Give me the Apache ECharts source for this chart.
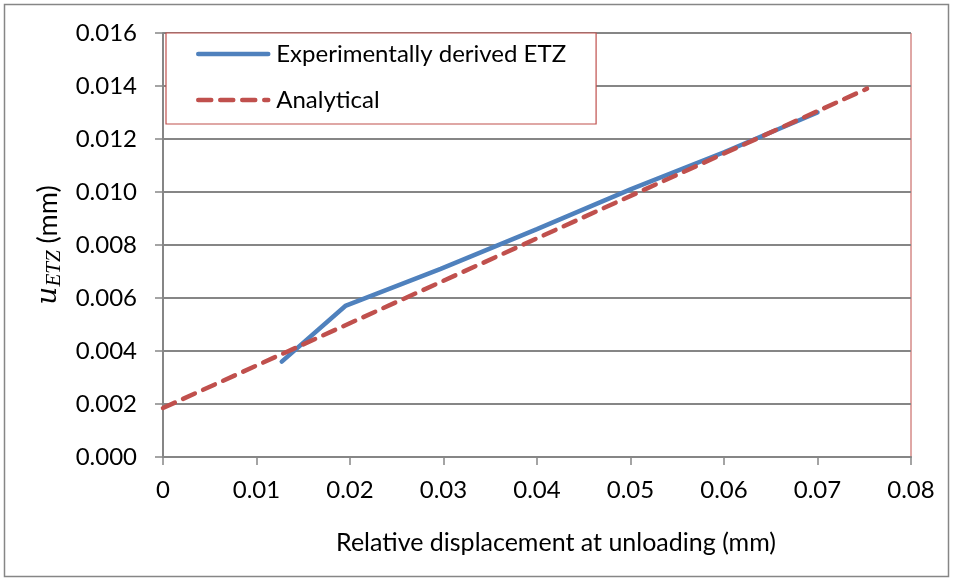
<!DOCTYPE html>
<html>
<head>
<meta charset="utf-8">
<script src="https://cdn.jsdelivr.net/npm/echarts@6/dist/echarts.min.js"></script>
<style>
  html, body { margin: 0; padding: 0; background: #fff; }
  #chart { width: 953px; height: 581px; }
</style>
</head>
<body>
<div id="chart"></div>
<script>
// values
const expX = [0.0127, 0.0195, 0.0297, 0.04, 0.05, 0.06, 0.07];
const expY = [0.0036, 0.0057, 0.0071, 0.0086, 0.0101, 0.0115, 0.0130];
const anaX = [0, 0.0753];
const anaY = [0.00185, 0.0139];
const xTicks = [0, 0.01, 0.02, 0.03, 0.04, 0.05, 0.06, 0.07, 0.08];
const yTicks = [0, 0.002, 0.004, 0.006, 0.008, 0.010, 0.012, 0.014, 0.016];

const FONT = 'Lato, "Open Sans", sans-serif';
const gray = '#868686';

function zip(xs, ys) {
  return xs.map((x, i) => [x, ys[i]]);
}

const chart = echarts.init(document.getElementById('chart'), null, { renderer: 'canvas' });

chart.setOption({
  animation: false,
  backgroundColor: '#fff',
  textStyle: { fontFamily: FONT },
  graphic: [{
    type: 'rect',
    shape: { x: 4.5, y: 4.5, width: 944, height: 572 },
    style: { fill: 'none', stroke: gray, lineWidth: 1.5 },
    silent: true
  }],
  grid: {
    left: 163, right: 42, top: 33, bottom: 124,
    show: true, borderColor: '#c0504d', borderWidth: 1, backgroundColor: 'transparent'
  },
  legend: {
    left: 166, top: 33,
    orient: 'vertical',
    backgroundColor: '#fff',
    borderColor: '#c0504d', borderWidth: 1.2, borderRadius: 0,
    padding: [9, 30, 12, 30],
    itemGap: 22,
    itemWidth: 70, itemHeight: 24,
    itemStyle: { opacity: 0 },
    lineStyle: { width: 4.5, cap: 'round' },
    textStyle: { fontFamily: FONT, fontSize: 24, color: '#000', padding: [0, 0, 0, 3] },
    data: ['Experimentally derived ETZ', 'Analytical']
  },
  xAxis: {
    type: 'value',
    min: 0, max: 0.08, interval: 0.01,
    name: 'Relative displacement at unloading (mm)',
    nameLocation: 'middle', nameGap: 73,
    nameTextStyle: { fontFamily: FONT, fontSize: 25, color: '#000', verticalAlign: 'top', padding: [0, 0, 0, 38] },
    axisLine: { show: true, lineStyle: { color: gray, width: 2 } },
    axisTick: { show: true, length: 8, lineStyle: { color: gray, width: 1.5 } },
    axisLabel: {
      fontFamily: FONT, fontSize: 24, color: '#000', margin: 21,
      formatter: v => {
        const t = xTicks.find(k => Math.abs(k - v) < 1e-9);
        return t === 0 ? '0' : (t !== undefined ? t.toFixed(2) : '');
      }
    },
    splitLine: { show: false }
  },
  yAxis: {
    type: 'value',
    min: 0, max: 0.016, interval: 0.002,
    name: '{u|u}{sub|ETZ}{mm| (mm)}',
    nameLocation: 'middle', nameGap: 86, nameRotate: 90,
    nameTextStyle: {
      rich: {
        u: { fontFamily: '"DejaVu Serif", "Liberation Serif", serif', fontStyle: 'italic', fontSize: 28, color: '#000' },
        sub: { fontFamily: '"Liberation Serif", serif', fontStyle: 'italic', fontSize: 21, color: '#000', padding: [12, 0, 0, 0] },
        mm: { fontFamily: FONT, fontSize: 27, color: '#000' }
      }
    },
    axisLine: { show: true, lineStyle: { color: gray, width: 2 } },
    axisTick: { show: true, length: 8, lineStyle: { color: gray, width: 1.5 } },
    axisLabel: {
      fontFamily: FONT, fontSize: 24, color: '#000', margin: 26,
      formatter: v => v.toFixed(3)
    },
    splitLine: { show: true, lineStyle: { color: gray, width: 2 } }
  },
  series: [
    {
      name: 'Experimentally derived ETZ',
      type: 'line',
      data: zip(expX, expY),
      symbol: 'none',
      lineStyle: { color: '#4f81bd', width: 4.5, cap: 'round' },
      itemStyle: { color: '#4f81bd' },
      z: 2
    },
    {
      name: 'Analytical',
      type: 'line',
      data: zip(anaX, anaY),
      symbol: 'none',
      lineStyle: { color: '#c0504d', width: 4.5, type: [13, 9], cap: 'round' },
      itemStyle: { color: '#c0504d' },
      z: 3
    }
  ]
});
</script>
</body>
</html>
